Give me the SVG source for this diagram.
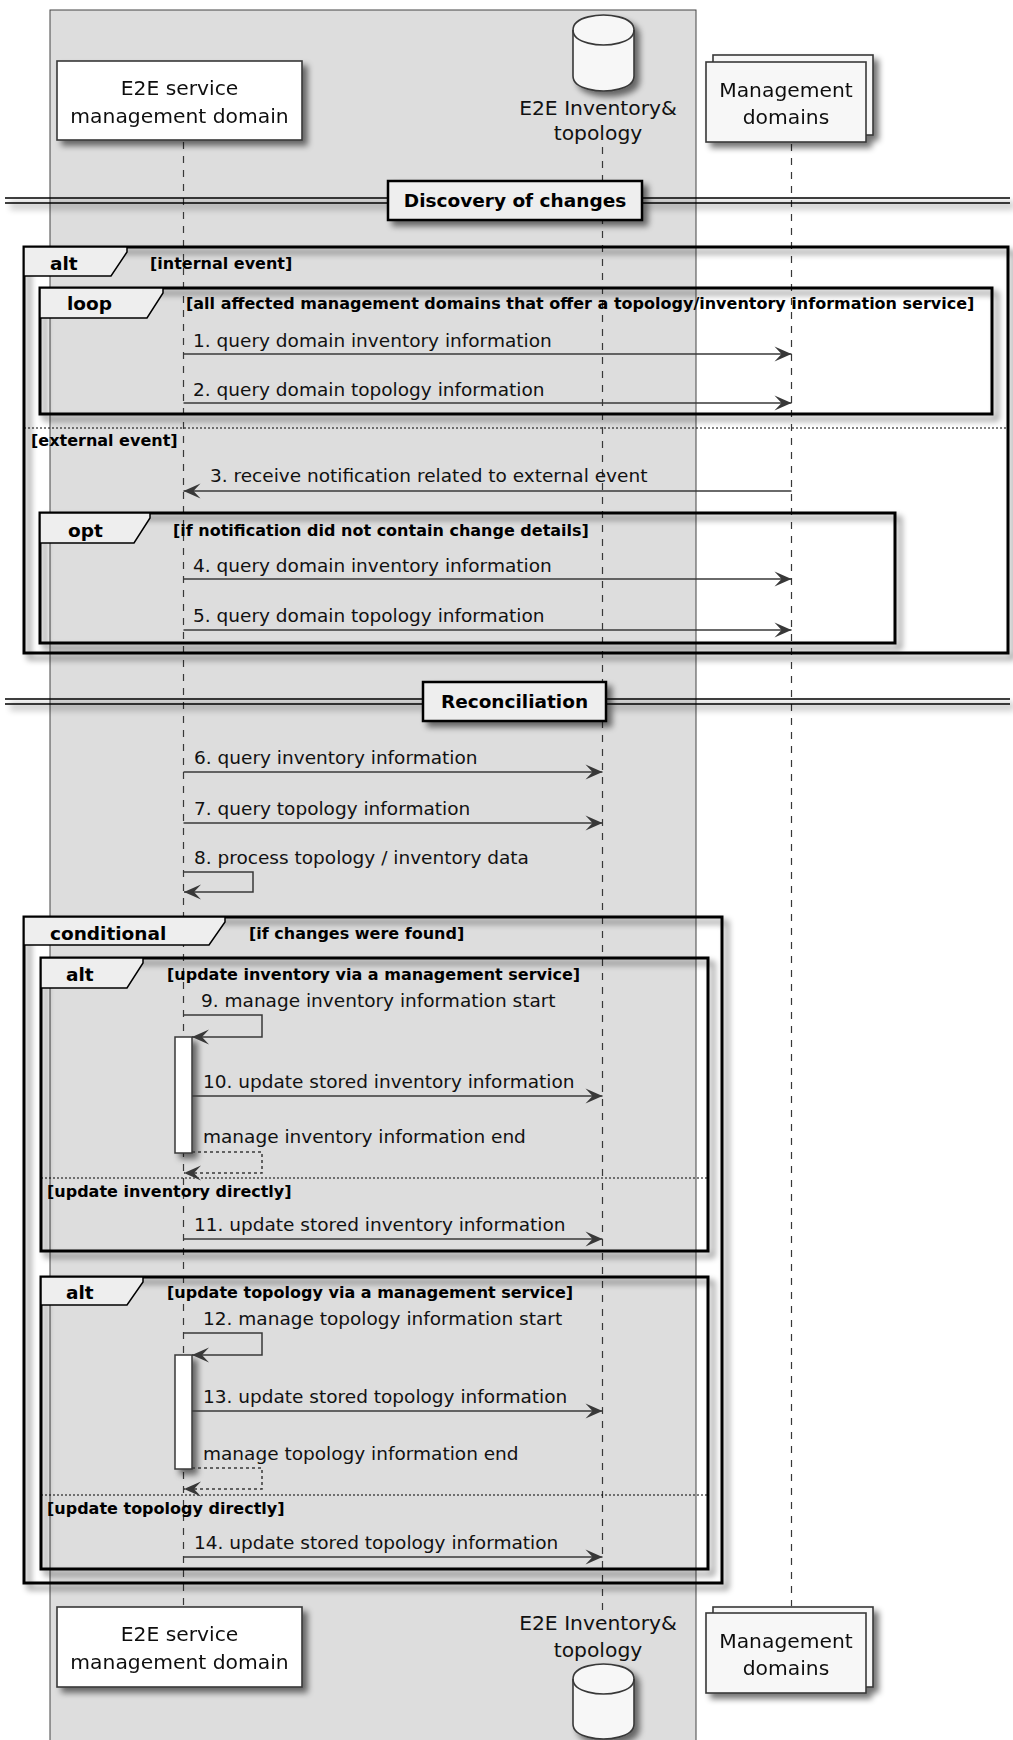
<svg xmlns="http://www.w3.org/2000/svg" width="1013" height="1740" viewBox="0 0 1013 1740">
<defs>
<style>
text{font-family:"DejaVu Sans",sans-serif;fill:#000}
.msg{font-size:18.5px;fill:#111}
.part{font-size:20.3px;text-anchor:middle;fill:#111}
.lab{font-size:18.5px;font-weight:bold}
.grd{font-size:16px;font-weight:bold}
.sep{font-size:18.5px;font-weight:bold;text-anchor:middle}
.life{stroke:#383838;stroke-width:1.2;stroke-dasharray:7,7;fill:none}
.box{fill:#fff;stroke:#383838;stroke-width:1.6}
.box2{fill:#f7f7f7;stroke:#383838;stroke-width:1.6}
.frame{fill:none;stroke:#000;stroke-width:3}
.tab{fill:#eee;stroke:#000;stroke-width:1.5}
.dsep{stroke:#000;stroke-width:1;stroke-dasharray:2,2;fill:none}
.ln{stroke:#383838;stroke-width:1.5;fill:none}
.rt{stroke:#383838;stroke-width:1.5;fill:none;stroke-dasharray:3,3}
.act{fill:#fff;stroke:#383838;stroke-width:1.5}
.dline{stroke:#000;stroke-width:1.5;fill:none}
.dbox{fill:#eee;stroke:#000;stroke-width:2.5}
</style>
<filter id="sh" filterUnits="userSpaceOnUse" x="0" y="0" width="1013" height="1740">
<feGaussianBlur in="SourceAlpha" stdDeviation="3"/>
<feOffset dx="5" dy="5"/>
<feComponentTransfer><feFuncA type="linear" slope="0.55"/></feComponentTransfer>
<feMerge><feMergeNode/><feMergeNode in="SourceGraphic"/></feMerge>
</filter>
<marker id="ah" viewBox="-18 -9 20 18" markerWidth="20" markerHeight="18" refX="0" refY="0" orient="auto" markerUnits="userSpaceOnUse">
<path d="M0,0 L-17,-7.5 L-10,0 L-17,7.5 Z" fill="#383838"/>
</marker>
</defs>
<rect width="1013" height="1740" fill="#fff"/>
<g id="box-group">
<rect x="50" y="10" width="646" height="1745" fill="#ddd" stroke="#444" stroke-width="1"/>
</g>
<g id="lifelines">
<line class="life" x1="183.5" y1="142" x2="183.5" y2="1606"/>
<line class="life" x1="602.5" y1="147" x2="602.5" y2="1610"/>
<line class="life" x1="791.5" y1="144" x2="791.5" y2="1606"/>
</g>
<g id="p1-top" filter="url(#sh)">
<rect class="box" x="57" y="61" width="245" height="79"/>
<text class="part" x="179.5" y="95">E2E service</text>
<text class="part" x="179.5" y="123">management domain</text>
</g>
<g id="p2-top">
<path class="box2" filter="url(#sh)" d="M573,30 C573,15 603.5,15 603.5,15 C603.5,15 634,15 634,30 L634,76 C634,91 603.5,91 603.5,91 C603.5,91 573,91 573,76 Z"/>
<path class="box2" style="fill:none" d="M573,30 C573,45 603.5,45 603.5,45 C603.5,45 634,45 634,30"/>
<text class="part" x="598" y="115">E2E Inventory&amp;</text>
<text class="part" x="598" y="140">topology</text>
</g>
<g id="p3-top" filter="url(#sh)">
<rect class="box2" x="713" y="55" width="160" height="80"/>
<rect class="box2" x="706" y="62" width="160" height="80"/>
<text class="part" x="786" y="97">Management</text>
<text class="part" x="786" y="124">domains</text>
</g>
<g id="div-discovery">
<g filter="url(#sh)">
<line class="dline" x1="5" y1="198" x2="1010" y2="198"/>
<line class="dline" x1="5" y1="203" x2="1010" y2="203"/>
<rect class="dbox" x="388" y="181" width="254" height="39"/>
</g>
<text class="sep" x="515" y="207">Discovery of changes</text>
</g>
<g id="alt-event">
<rect class="frame" x="24" y="247" width="984" height="406" filter="url(#sh)"/>
<path class="tab" d="M24,247 H127 V252 L111,276 H24 Z"/>
<text class="lab" x="50" y="270">alt</text>
<text class="grd" x="150" y="269">[internal event]</text>
<line class="dsep" x1="24" y1="428" x2="1008" y2="428"/>
<text class="grd" x="31" y="446">[external event]</text>
</g>
<g id="loop-domains">
<rect class="frame" x="40" y="288" width="952" height="126" filter="url(#sh)"/>
<path class="tab" d="M40,288 H163 V293 L147,318 H40 Z"/>
<text class="lab" x="67" y="310">loop</text>
<text class="grd" x="186" y="309">[all affected management domains that offer a topology/inventory information service]</text>
</g>
<g id="opt-notification">
<rect class="frame" x="40" y="513" width="855" height="130" filter="url(#sh)"/>
<path class="tab" d="M40,513 H150 V518 L134,543 H40 Z"/>
<text class="lab" x="68" y="537">opt</text>
<text class="grd" x="173" y="536">[if notification did not contain change details]</text>
</g>
<g id="div-reconciliation">
<g filter="url(#sh)">
<line class="dline" x1="5" y1="699" x2="1010" y2="699"/>
<line class="dline" x1="5" y1="704" x2="1010" y2="704"/>
<rect class="dbox" x="423" y="682" width="183" height="39"/>
</g>
<text class="sep" x="514.5" y="708">Reconciliation</text>
</g>
<g id="conditional-changes">
<rect class="frame" x="24" y="917" width="698" height="666" filter="url(#sh)"/>
<path class="tab" d="M24,917 H225 V922 L209,945 H24 Z"/>
<text class="lab" x="50" y="940">conditional</text>
<text class="grd" x="249" y="939">[if changes were found]</text>
</g>
<g id="alt-inventory">
<rect class="frame" x="41" y="958" width="667" height="293" filter="url(#sh)"/>
<path class="tab" d="M41,958 H143 V963 L127,988 H41 Z"/>
<text class="lab" x="66" y="981">alt</text>
<text class="grd" x="167" y="980">[update inventory via a management service]</text>
<line class="dsep" x1="41" y1="1178" x2="708" y2="1178"/>
<text class="grd" x="47" y="1197">[update inventory directly]</text>
</g>
<g id="alt-topology">
<rect class="frame" x="41" y="1277" width="667" height="292" filter="url(#sh)"/>
<path class="tab" d="M41,1277 H143 V1282 L127,1305 H41 Z"/>
<text class="lab" x="66" y="1299">alt</text>
<text class="grd" x="167" y="1298">[update topology via a management service]</text>
<line class="dsep" x1="41" y1="1495" x2="708" y2="1495"/>
<text class="grd" x="47" y="1514">[update topology directly]</text>
</g>
<g id="activations" filter="url(#sh)">
<rect class="act" x="175" y="1037" width="17" height="116"/>
<rect class="act" x="175" y="1355" width="17" height="114"/>
</g>
<g id="connectors">
<line class="ln" x1="183.5" y1="354" x2="791.5" y2="354" marker-end="url(#ah)"/>
<text class="msg" x="193" y="347">1. query domain inventory information</text>
<line class="ln" x1="183.5" y1="403" x2="791.5" y2="403" marker-end="url(#ah)"/>
<text class="msg" x="193" y="396">2. query domain topology information</text>
<line class="ln" x1="791.5" y1="491" x2="183.5" y2="491" marker-end="url(#ah)"/>
<text class="msg" x="210" y="482">3. receive notification related to external event</text>
<line class="ln" x1="183.5" y1="579" x2="791.5" y2="579" marker-end="url(#ah)"/>
<text class="msg" x="193" y="572">4. query domain inventory information</text>
<line class="ln" x1="183.5" y1="630" x2="791.5" y2="630" marker-end="url(#ah)"/>
<text class="msg" x="193" y="622">5. query domain topology information</text>
<line class="ln" x1="183.5" y1="772" x2="602.5" y2="772" marker-end="url(#ah)"/>
<text class="msg" x="194" y="764">6. query inventory information</text>
<line class="ln" x1="183.5" y1="823" x2="602.5" y2="823" marker-end="url(#ah)"/>
<text class="msg" x="194" y="815">7. query topology information</text>
<path class="ln" d="M183.5,872 H253 V892 H184" marker-end="url(#ah)"/>
<text class="msg" x="194" y="864">8. process topology / inventory data</text>
<path class="ln" d="M183.5,1015 H262 V1037 H192" marker-end="url(#ah)"/>
<text class="msg" x="201" y="1007">9. manage inventory information start</text>
<line class="ln" x1="192" y1="1096" x2="602.5" y2="1096" marker-end="url(#ah)"/>
<text class="msg" x="203" y="1088">10. update stored inventory information</text>
<path class="rt" d="M192,1152 H262 V1173 H184" marker-end="url(#ah)"/>
<text class="msg" x="203" y="1143">manage inventory information end</text>
<line class="ln" x1="183.5" y1="1239" x2="602.5" y2="1239" marker-end="url(#ah)"/>
<text class="msg" x="194" y="1231">11. update stored inventory information</text>
<path class="ln" d="M183.5,1333 H262 V1355 H192" marker-end="url(#ah)"/>
<text class="msg" x="203" y="1325">12. manage topology information start</text>
<line class="ln" x1="192" y1="1411" x2="602.5" y2="1411" marker-end="url(#ah)"/>
<text class="msg" x="203" y="1403">13. update stored topology information</text>
<path class="rt" d="M192,1468 H262 V1489 H184" marker-end="url(#ah)"/>
<text class="msg" x="203" y="1460">manage topology information end</text>
<line class="ln" x1="183.5" y1="1557" x2="602.5" y2="1557" marker-end="url(#ah)"/>
<text class="msg" x="194" y="1549">14. update stored topology information</text>
</g>
<g id="p1-bottom" filter="url(#sh)">
<rect class="box" x="57" y="1607" width="245" height="80"/>
<text class="part" x="179.5" y="1641">E2E service</text>
<text class="part" x="179.5" y="1669">management domain</text>
</g>
<g id="p2-bottom">
<text class="part" x="598" y="1630">E2E Inventory&amp;</text>
<text class="part" x="598" y="1657">topology</text>
<path class="box2" filter="url(#sh)" d="M573,1679 C573,1664 603.5,1664 603.5,1664 C603.5,1664 634,1664 634,1679 L634,1724 C634,1739 603.5,1739 603.5,1739 C603.5,1739 573,1739 573,1724 Z"/>
<path class="box2" style="fill:none" d="M573,1679 C573,1694 603.5,1694 603.5,1694 C603.5,1694 634,1694 634,1679"/>
</g>
<g id="p3-bottom" filter="url(#sh)">
<rect class="box2" x="713" y="1607" width="160" height="80"/>
<rect class="box2" x="706" y="1613" width="160" height="80"/>
<text class="part" x="786" y="1648">Management</text>
<text class="part" x="786" y="1675">domains</text>
</g>
</svg>
